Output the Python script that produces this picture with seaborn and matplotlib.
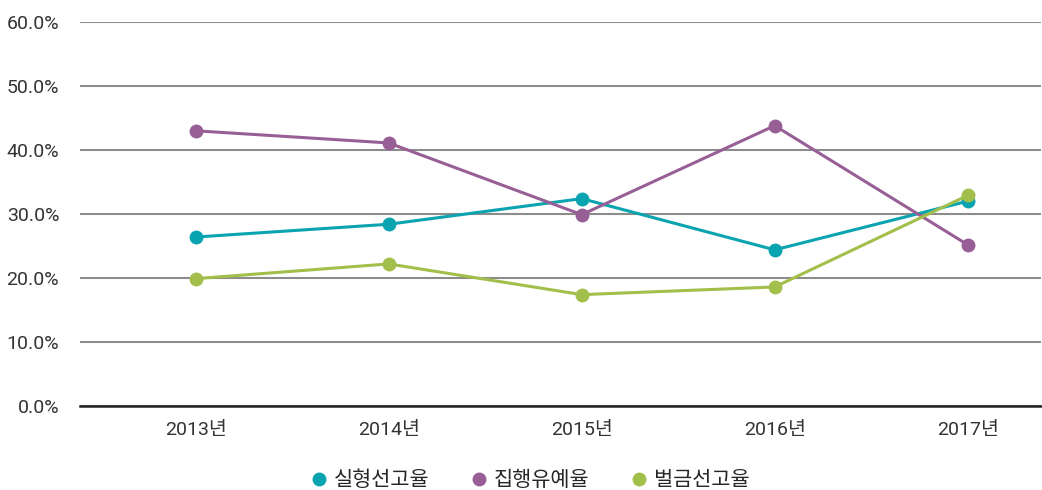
import matplotlib
matplotlib.use("Agg")
import matplotlib.pyplot as plt
import seaborn as sns
import pandas as pd
from matplotlib.ticker import FuncFormatter, MultipleLocator
from matplotlib.lines import Line2D

years = ["2013년", "2014년", "2015년", "2016년", "2017년"]
series_names = ["실형선고율", "집행유예율", "벌금선고율"]
prison_rate = [26.4, 28.4, 32.4, 24.4, 32.0]
probation_rate = [43.0, 41.1, 29.9, 43.8, 25.2]
fine_rate = [19.9, 22.2, 17.4, 18.6, 32.9]
colors = ["#0aa3b0", "#985f97", "#a3bf4b"]

df = pd.DataFrame({
    "year": years * 3,
    "x": list(range(len(years))) * 3,
    "series": [series_names[0]] * 5 + [series_names[1]] * 5 + [series_names[2]] * 5,
    "value": prison_rate + probation_rate + fine_rate,
})

sns.set_theme(style="white")
plt.rcParams["font.family"] = ["Roboto", "Noto Sans CJK KR", "DejaVu Sans"]

fig = plt.figure(figsize=(10.42, 4.90), dpi=100)
ax = fig.add_axes([80 / 1042, 1 - 406 / 490, (1041 - 80) / 1042, (406 - 22) / 490])

palette = dict(zip(series_names, colors))
sns.lineplot(data=df, x="x", y="value", hue="series", palette=palette,
             linewidth=2.2, marker="o", markersize=10, markeredgewidth=0,
             legend=False, ax=ax, zorder=3)

ax.set_ylim(0, 60)
ax.set_xlim(-0.60, 4.38)
ax.yaxis.set_major_locator(MultipleLocator(10))
ax.yaxis.set_major_formatter(FuncFormatter(lambda v, p: f"{v:.1f}%"))
ax.set_xticks(range(len(years)))
ax.set_xticklabels(years)
ax.grid(axis="y", color="#8c8c8c", linewidth=1.5)
ax.set_axisbelow(True)
for s in ["top", "right", "left"]:
    ax.spines[s].set_visible(False)
ax.spines["bottom"].set_color("#222222")
ax.spines["bottom"].set_linewidth(1.8)
ax.spines["bottom"].set_zorder(2)
ax.tick_params(axis="both", length=0, labelsize=14, colors="#333333")
ax.tick_params(axis="x", pad=11)
ax.tick_params(axis="y", pad=15)
ax.set_xlabel("")
ax.set_ylabel("")

handles = [Line2D([0], [0], marker="o", color="none", markerfacecolor=c,
                  markeredgewidth=0, markersize=10) for c in colors]
fig.legend(handles, series_names, loc="center", bbox_to_anchor=(529 / 1042, 1 - 480 / 490),
           ncol=3, frameon=False, fontsize=15, handletextpad=0.2, columnspacing=1.9,
           handlelength=1.0)

fig.savefig("out.png", dpi=100)
